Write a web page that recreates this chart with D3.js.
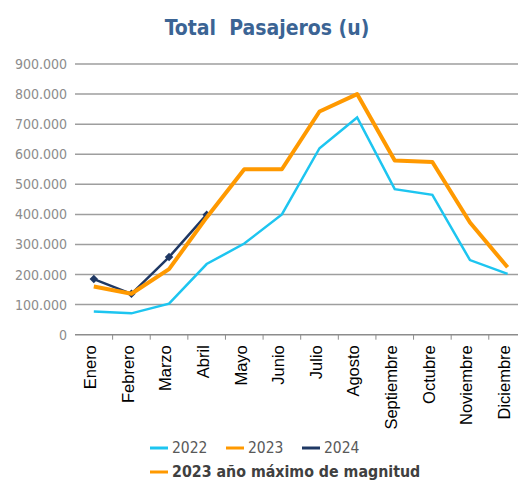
<!DOCTYPE html>
<html>
<head>
<meta charset="utf-8">
<script src="https://cdn.jsdelivr.net/npm/d3@7"></script>
<style>
  body { margin: 0; background: #fff; overflow: hidden; }
  svg { display: block; }
</style>
</head>
<body>
<div id="chart"></div>
<script>
// data
var months = ["Enero", "Febrero", "Marzo", "Abril", "Mayo", "Junio", "Julio",
    "Agosto", "Septiembre", "Octubre", "Noviembre", "Diciembre"];
var pax2022 = [77000, 71000, 103000, 235000, 303000, 400000, 620000, 722000, 484000, 465000, 248000, 202000];
var pax2023 = [160000, 136000, 218000, 390000, 550000, 550000, 742000, 800000, 579000, 574000, 373000, 224000];
var pax2024 = [185000, 136000, 258000, 399000];
var yTicks = [0, 100000, 200000, 300000, 400000, 500000, 600000, 700000, 800000, 900000];

var svgWidth = 518;
var svgHeight = 480;
var cond = "'DejaVu Sans Condensed', 'DejaVu Sans', sans-serif";

var svg = d3.select("#chart")
    .append("svg")
    .attr("width", svgWidth)
    .attr("height", svgHeight)
;

// plot runs past the right edge of the window, like the original
var xScale = d3.scaleBand()
    .domain(months)
    .range([75, 526.4])
;

var yScale = d3.scaleLinear()
    .domain([0, 900000])
    .range([334.7, 64])
;

var fmt = d3.format(",.0f");
var tickFmt = d => fmt(d).replace(/,/g, ".");

// Title
svg.append("text")
    .attr("x", 267)
    .attr("y", 35)
    .attr("text-anchor", "middle")
    .style("font-family", cond)
    .style("font-weight", "bold")
    .style("font-size", "21px")
    .style("fill", "#3b6494")
    .style("white-space", "pre")
    .text("Total  Pasajeros (u)")
;

// grid lines
svg.append("g")
    .selectAll("line")
    .data(yTicks.filter(d => d > 0))
    .enter()
    .append("line")
    .attr("x1", 75)
    .attr("x2", svgWidth)
    .attr("y1", d => yScale(d))
    .attr("y2", d => yScale(d))
    .attr("stroke", "#9e9e9e")
    .attr("stroke-width", 1.5)
;

// y labels
var yAxis = svg.append("g")
    .attr("transform", "translate(75,0)")
    .call(d3.axisLeft(yScale).tickValues(yTicks).tickFormat(tickFmt).tickSize(0).tickPadding(8))
;
yAxis.select(".domain").remove();
yAxis.selectAll("text")
    .style("font-family", cond)
    .style("font-size", "14px")
    .style("fill", "#8c8c8c")
;

// x axis with ticks between categories
var xAxisG = svg.append("g")
    .attr("transform", `translate(0, ${yScale(0)})`)
;
xAxisG.append("line")
    .attr("x1", 75)
    .attr("x2", svgWidth)
    .attr("stroke", "#8c8c8c")
    .attr("stroke-width", 1.5)
;
xAxisG.selectAll(".tk")
    .data(months.slice(1))
    .enter()
    .append("line")
    .attr("class", "tk")
    .attr("x1", d => xScale(d))
    .attr("x2", d => xScale(d))
    .attr("y1", 0)
    .attr("y2", 5)
    .attr("stroke", "#8c8c8c")
    .attr("stroke-width", 1)
;
xAxisG.selectAll(".lbl")
    .data(months)
    .enter()
    .append("text")
    .attr("class", "lbl")
    .attr("transform", d => `translate(${xScale(d) + xScale.bandwidth() / 2}, 10.5) rotate(-90)`)
    .attr("text-anchor", "end")
    .attr("dy", "0.14em")
    .style("font-family", "'Liberation Sans', Arial, sans-serif")
    .style("font-size", "16.5px")
    .style("fill", "#000")
    .text(d => d)
;

// lines
var cx = (d, i) => xScale(months[i]) + xScale.bandwidth() / 2;
var line = d3.line()
    .x(cx)
    .y(d => yScale(d))
;

svg.append("path")
    .datum(pax2022)
    .attr("d", line)
    .attr("fill", "none")
    .attr("stroke", "#1dc5f0")
    .attr("stroke-width", 2.5)
;

svg.append("path")
    .datum(pax2024)
    .attr("d", line)
    .attr("fill", "none")
    .attr("stroke", "#1f3864")
    .attr("stroke-width", 2.5)
;

// diamond markers (square turned 45deg)
svg.append("g")
    .selectAll("path")
    .data(pax2024)
    .enter()
    .append("path")
    .attr("transform", (d, i) => `translate(${cx(d, i)}, ${yScale(d)}) rotate(45)`)
    .attr("d", d3.symbol().type(d3.symbolSquare).size(36))
    .attr("fill", "#1f3864")
;

// 2023 plus its "maximum" series drawn on top
svg.append("path")
    .datum(pax2023)
    .attr("d", line)
    .attr("fill", "none")
    .attr("stroke", "#ff9900")
    .attr("stroke-width", 4)
    .attr("stroke-linejoin", "round")
;

// Legend
var legendItems = [
    { name: "2022", color: "#1dc5f0", x: 150, y: 448, bold: false },
    { name: "2023", color: "#ff9900", x: 226, y: 448, bold: false },
    { name: "2024", color: "#1f3864", x: 302, y: 448, bold: false },
    { name: "2023 año máximo de magnitud", color: "#ff9900", x: 150, y: 472, bold: true }
];

var legend = svg.append("g")
    .selectAll("g")
    .data(legendItems)
    .enter()
    .append("g")
    .attr("transform", d => `translate(${d.x}, ${d.y})`)
;
legend.append("line")
    .attr("x1", 0)
    .attr("x2", 18)
    .attr("stroke", d => d.color)
    .attr("stroke-width", 3)
;
legend.append("text")
    .attr("x", 22)
    .attr("dy", "0.34em")
    .style("font-family", cond)
    .style("font-size", d => d.bold ? "15.8px" : "15.5px")
    .style("font-weight", d => d.bold ? "bold" : "normal")
    .style("fill", d => d.bold ? "#404040" : "#595959")
    .text(d => d.name)
;
</script>
</body>
</html>
